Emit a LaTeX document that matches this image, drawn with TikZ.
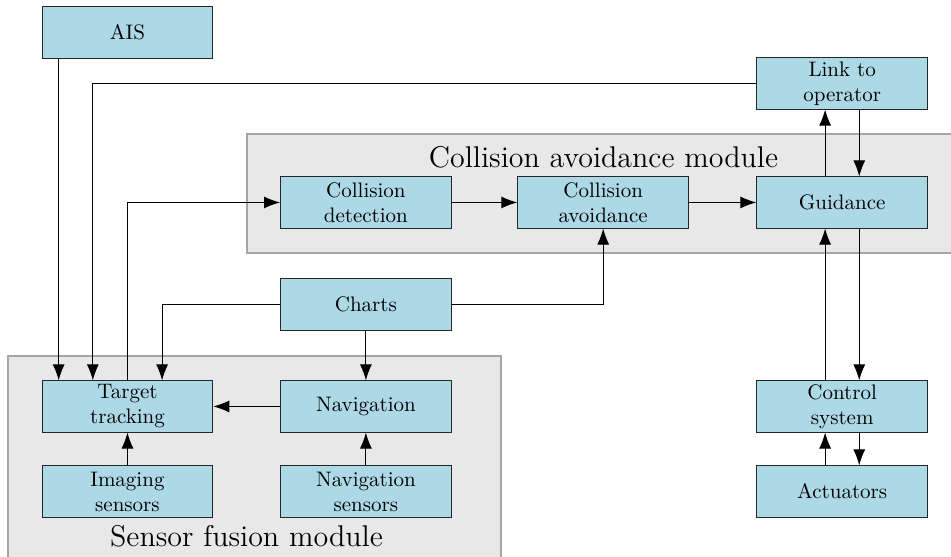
\documentclass[tikz,border=0pt]{standalone}
\usetikzlibrary{arrows.meta}
\definecolor{boxblue}{RGB}{173,216,230}
\definecolor{modgray}{RGB}{232,232,232}
\definecolor{modline}{RGB}{165,165,165}
\begin{document}
\begin{tikzpicture}[
        box/.style={draw=black!85, fill=boxblue, line width=0.5pt, minimum width=3cm, minimum height=0.9cm,
                    align=center, inner sep=1pt, font=\fontsize{10.5pt}{12.5pt}\selectfont},
        link/.style={line width=0.5pt, -{Latex[length=8pt,width=6pt]}},
        module/.style={fill=modgray, draw=modline, line width=0.6pt},
        modlabel/.style={anchor=base, font=\fontsize{14.99pt}{17pt}\selectfont}]
                            \useasboundingbox (0,0) rectangle (16.712,-9.788);

                            \draw[module] (4.341,-2.355) rectangle (17,-4.446);% collision avoidance
                            \node[modlabel] at (10.605,-2.935) {Collision avoidance module};
                            \draw[module] (0.141,-6.256) rectangle (8.804,-10);% sensor fusion
                            \node[modlabel] at (4.332,-9.612) {Sensor fusion module};

                            \node[box] (ais) at (2.24,-0.571) {AIS};
                            \node[box] (link) at (14.8,-1.467) {Link to\\operator};

                            \node[box] (cd) at (6.43,-3.558) {Collision\\detection};
                            \node[box] (ca) at (10.6,-3.558) {Collision\\avoidance};
                            \node[box] (guid) at (14.8,-3.558) {Guidance};

                            \node[box] (charts) at (6.43,-5.351) {Charts};

                            \node[box] (tt) at (2.24,-7.143) {Target\\tracking};
                            \node[box] (nav) at (6.43,-7.143) {Navigation};
                            \node[box] (ctrl) at (14.8,-7.143) {Control\\system};

                            \node[box] (img) at (2.24,-8.637) {Imaging\\sensors};
                            \node[box] (nsens) at (6.43,-8.637) {Navigation\\sensors};
                            \node[box] (act) at (14.8,-8.637) {Actuators};

                            \draw[link] ([xshift=0.3cm]ais.south west) -- ([xshift=0.3cm]tt.north west);
                            \draw[link] (link.west) -| ([xshift=0.9cm]tt.north west);
                            \draw[link] (tt.north) |- (cd.west);
                            \draw[link] (charts.west) -| ([xshift=-0.9cm]tt.north east);
                            \draw[link] (charts.east) -| (ca.south);
                            \draw[link] (charts) -- (nav);
                            \draw[link] (nav) -- (tt);
                            \draw[link] (img) -- (tt);
                            \draw[link] (nsens) -- (nav);

                            \draw[link] (cd) -- (ca);
                            \draw[link] (ca) -- (guid);
                            \draw[link] ([xshift=-0.3cm]guid.north) -- ([xshift=-0.3cm]link.south);
                            \draw[link] ([xshift=0.3cm]link.south) -- ([xshift=0.3cm]guid.north);
                            \draw[link] ([xshift=-0.3cm]ctrl.north) -- ([xshift=-0.3cm]guid.south);
                            \draw[link] ([xshift=0.3cm]guid.south) -- ([xshift=0.3cm]ctrl.north);
                            \draw[link] ([xshift=-0.3cm]act.north) -- ([xshift=-0.3cm]ctrl.south);
                            \draw[link] ([xshift=0.3cm]ctrl.south) -- ([xshift=0.3cm]act.north);
                        \end{tikzpicture}
\end{document}
